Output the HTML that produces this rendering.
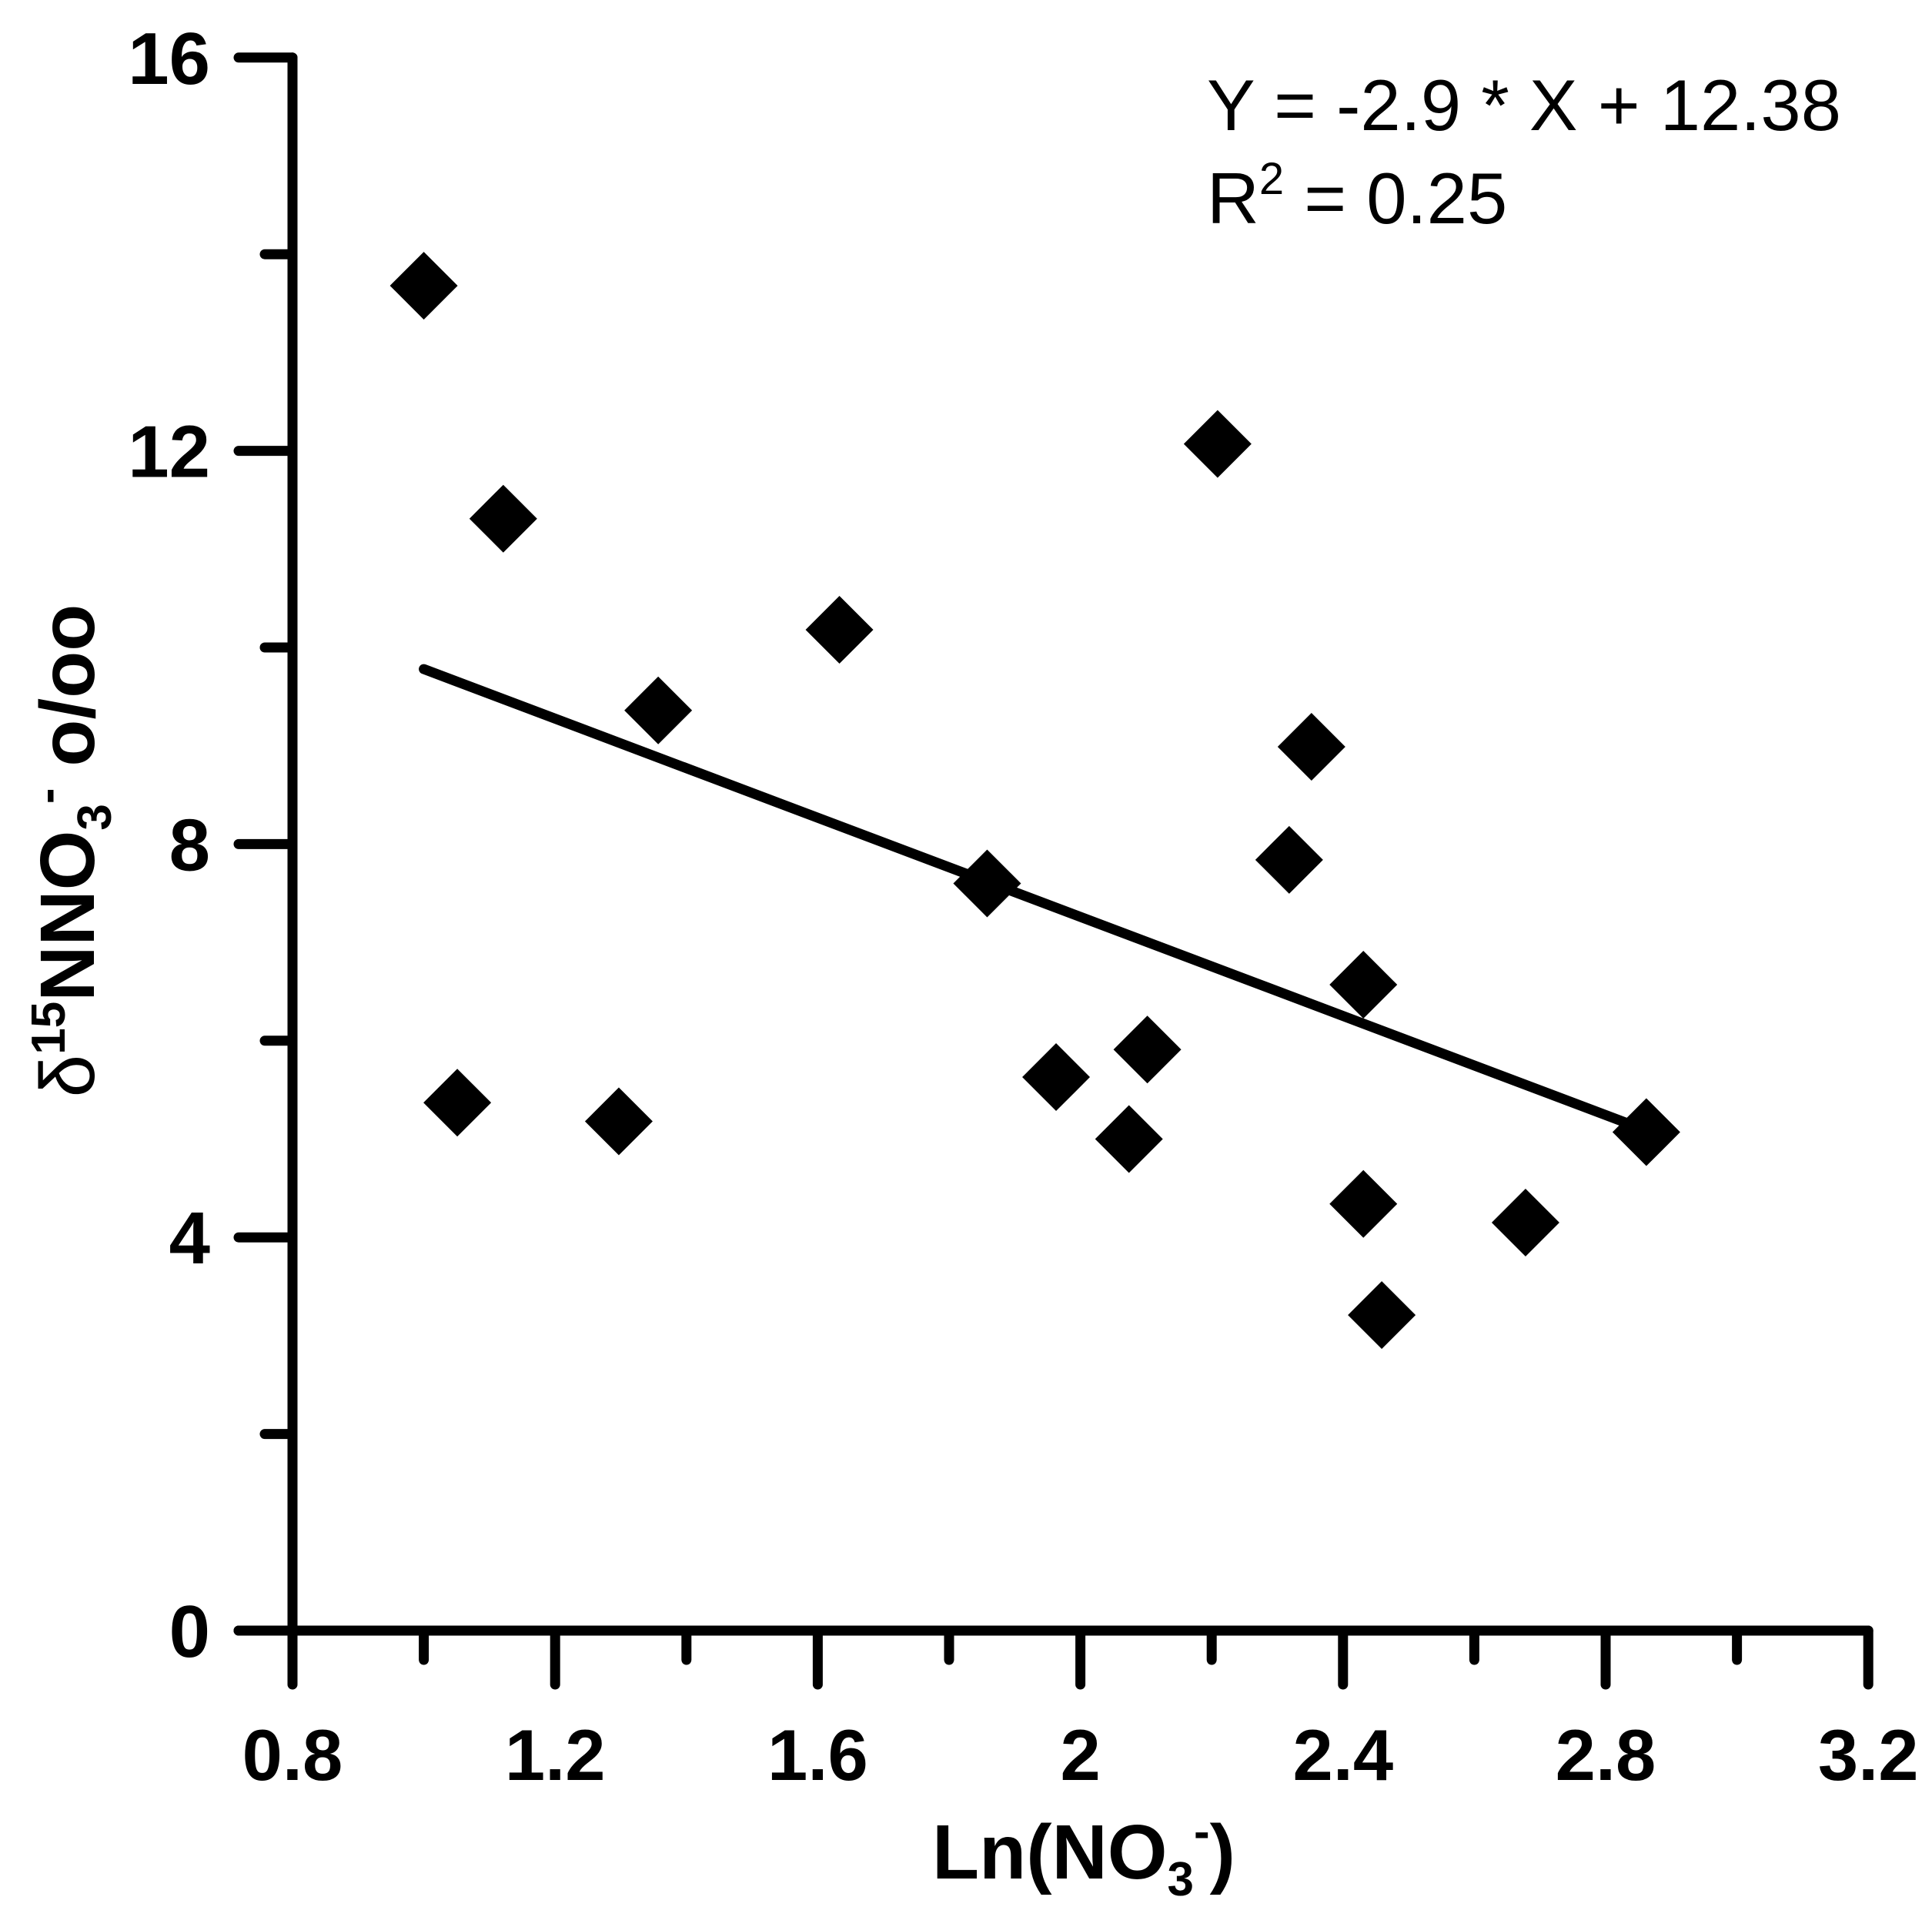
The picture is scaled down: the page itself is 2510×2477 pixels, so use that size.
<!DOCTYPE html>
<html><head><meta charset="utf-8"><style>
html,body{margin:0;padding:0;background:#fff;}
svg{display:block;}
text{font-family:"Liberation Sans",Arial,sans-serif;fill:#000;}
</style></head><body>
<svg id="chart" width="2510" height="2477" viewBox="0 0 2510 2477" xmlns="http://www.w3.org/2000/svg">
<g id="axes"></g>
<g id="marks"></g>
<text x="1568" y="169" font-size="94">Y = -2.9 * X + 12.38</text>
<text x="1568" y="290" font-size="94">R<tspan font-size="58" dy="-38">2</tspan><tspan dy="38"> = 0.25</tspan></text>
<text x="1408" y="2440" font-size="100" font-weight="bold" text-anchor="middle">Ln(NO<tspan font-size="62" dy="22">3</tspan><tspan font-size="62" dy="-62">-</tspan><tspan dy="40">)</tspan></text>
<text transform="translate(122,1105) rotate(-90)" font-size="100" font-weight="bold" text-anchor="middle"><tspan font-weight="normal">δ</tspan><tspan font-size="62" dy="-38">15</tspan><tspan dy="38">NNO</tspan><tspan font-size="62" dy="22">3</tspan><tspan font-size="62" dy="-62">-</tspan><tspan dy="40"> o/oo</tspan></text>
</svg>
<script>
const xValues = [1.0, 1.051, 1.121, 1.297, 1.357, 1.633, 1.858, 1.963, 2.074, 2.102, 2.209, 2.318, 2.352, 2.431, 2.431, 2.459, 2.678, 2.862];
const yValues = [13.68, 5.37, 11.31, 5.18, 9.36, 10.18, 7.60, 5.63, 5.00, 5.91, 12.07, 7.84, 8.99, 6.57, 4.34, 3.21, 4.15, 5.07];
const xMajorTicks = [0.8, 1.2, 1.6, 2.0, 2.4, 2.8, 3.2];
const xTickLabels = ["0.8", "1.2", "1.6", "2", "2.4", "2.8", "3.2"];
const xMinorTicks = [1.0, 1.4, 1.8, 2.2, 2.6, 3.0];
const yMajorTicks = [0, 4, 8, 12, 16];
const yTickLabels = ["0", "4", "8", "12", "16"];
const yMinorTicks = [2, 6, 10, 14];
const fitX = [1.0, 2.862];
const fitSlope = [-2.52];
const fitIntercept = [12.3];

const X0 = 380, XS = 853, XMIN = 0.8;
const Y0 = 2118, YS = 127.7;
const sx = v => X0 + (v - XMIN) * XS;
const sy = v => Y0 - v * YS;
const NS = "http://www.w3.org/2000/svg";
const axes = document.getElementById('axes');
const marks = document.getElementById('marks');
function mk(tag, attrs, parent) {
  const e = document.createElementNS(NS, tag);
  for (const k in attrs) e.setAttribute(k, attrs[k]);
  parent.appendChild(e);
  return e;
}
const lw = 13;
let e;
e = mk('line', {x1: sx(0.8), y1: sy(16), x2: sx(0.8), y2: sy(0), stroke: '#000', 'stroke-width': lw, 'stroke-linecap': 'round'}, axes);


e = mk('line', {x1: sx(0.8) - 70, y1: sy(0), x2: sx(3.2), y2: sy(0), stroke: '#000', 'stroke-width': lw, 'stroke-linecap': 'round'}, axes);


xMajorTicks.forEach((v, i) => {
  const t = mk('line', {x1: sx(v), y1: sy(0), x2: sx(v), y2: sy(0) + 70, stroke: '#000', 'stroke-width': lw, 'stroke-linecap': 'round'}, axes);
  
  
  const l = mk('text', {x: sx(v), y: 2312, 'font-size': 94, 'font-weight': 'bold', 'text-anchor': 'middle'}, axes);
  l.textContent = xTickLabels[i];
  
  
});
xMinorTicks.forEach(v => {
  const t = mk('line', {x1: sx(v), y1: sy(0), x2: sx(v), y2: sy(0) + 38, stroke: '#000', 'stroke-width': lw, 'stroke-linecap': 'round'}, axes);
  
  
});
yMajorTicks.forEach((v, i) => {
  const t = mk('line', {x1: sx(0.8) - 70, y1: sy(v), x2: sx(0.8), y2: sy(v), stroke: '#000', 'stroke-width': lw, 'stroke-linecap': 'round'}, axes);
  
  
  const l = mk('text', {x: 273, y: sy(v) + 34, 'font-size': 96, 'font-weight': 'bold', 'text-anchor': 'end'}, axes);
  l.textContent = yTickLabels[i];
  
  
});
yMinorTicks.forEach(v => {
  const t = mk('line', {x1: sx(0.8) - 36, y1: sy(v), x2: sx(0.8), y2: sy(v), stroke: '#000', 'stroke-width': lw, 'stroke-linecap': 'round'}, axes);
  
  
});
const fy = x => fitSlope[0] * x + fitIntercept[0];
e = mk('line', {x1: sx(fitX[0]), y1: sy(fy(fitX[0])), x2: sx(fitX[1]), y2: sy(fy(fitX[1])), stroke: '#000', 'stroke-width': 13, 'stroke-linecap': 'round'}, marks);


const r = 44;
xValues.forEach((xv, i) => {
  const cx = sx(xv), cy = sy(yValues[i]);
  const p = mk('polygon', {points: `${cx},${cy - r} ${cx + r},${cy} ${cx},${cy + r} ${cx - r},${cy}`, fill: '#000'}, marks);
  
  
});
</script>
</body></html>
